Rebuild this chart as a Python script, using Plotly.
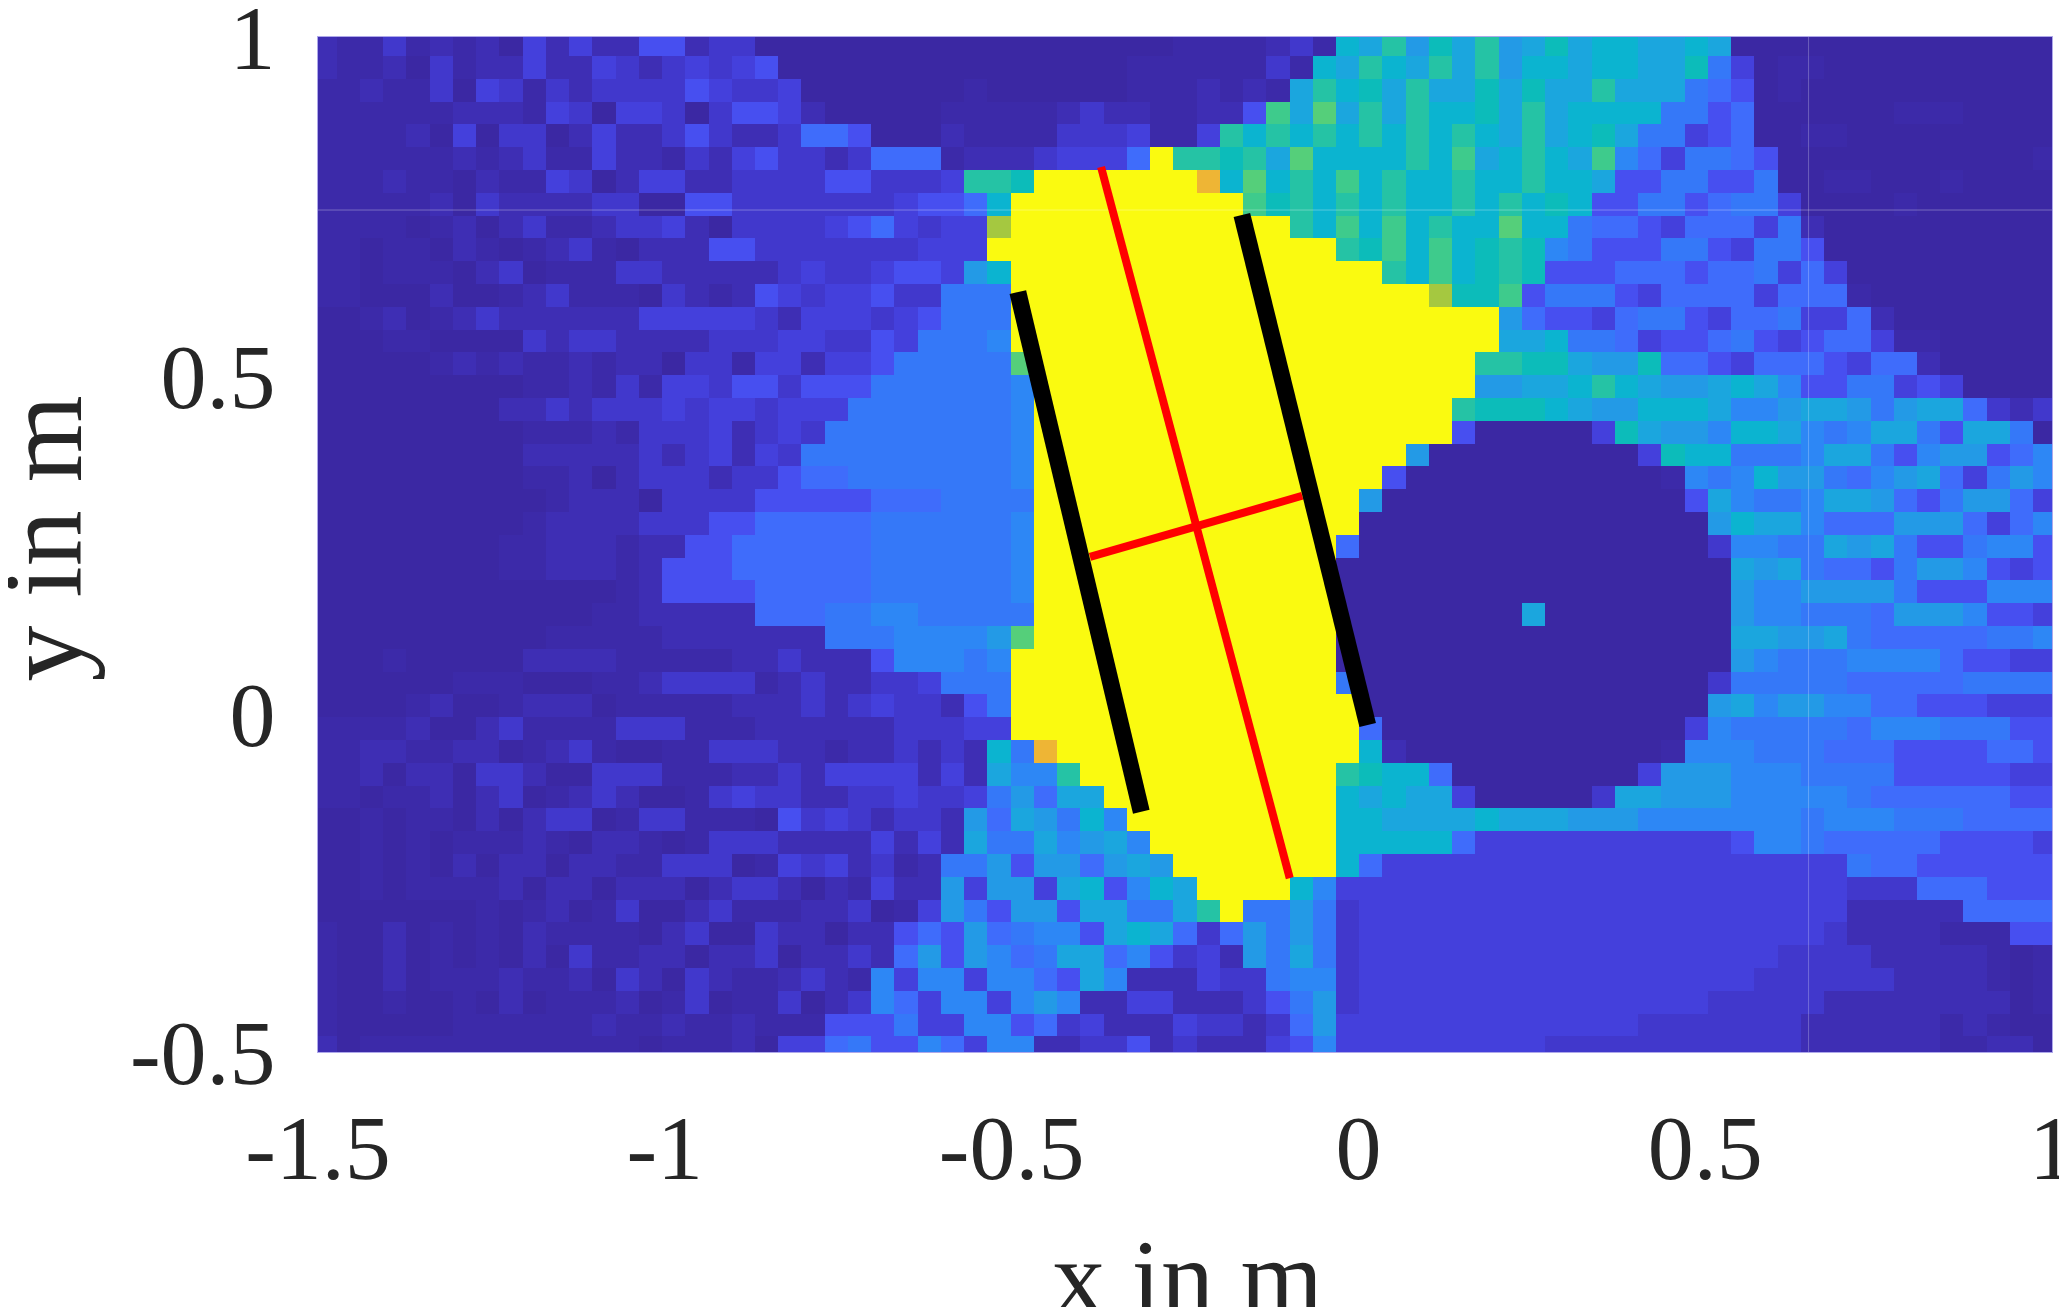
import plotly.graph_objects as go

# parula style colours
COLOURS = [
    [0.00, "#3b28a3"], [0.02, "#3c2aa9"], [0.04, "#3e2eb4"], [0.06, "#4138cc"],
    [0.09, "#4440dc"], [0.13, "#474ff0"], [0.18, "#3f6cfb"], [0.23, "#3578f8"],
    [0.29, "#2d87f5"], [0.34, "#239ae6"], [0.39, "#1ba6de"], [0.45, "#0bb4d0"],
    [0.50, "#0cbcba"], [0.56, "#25c3a5"], [0.62, "#3ecb8c"], [0.66, "#55cf7a"],
    [0.72, "#a5c840"], [0.86, "#eeb535"], [1.00, "#fafa10"],
]
LEVELS = dict(a=0.00, b=0.02, c=0.04, d=0.06, e=0.09, f=0.13, g=0.18, h=0.23, i=0.29, j=0.34,
              k=0.39, l=0.45, m=0.50, n=0.56, o=0.62, p=0.66, q=0.72, r=0.86, y=1.00)

# one string per row, top to bottom, one letter per cell
ROWS = [
    "cbbdbcbcae ceccffcdda aaaaaaaaaa aaaaaaabbb bcdblknjmk njkmkllkkl kaaaaaaaaa aaaaa",
    "cbbcadbcce ccedcdedef aaaaaaaaaa aaaaabbbbb bdblknlknk njllkllkkm heabbaaaaa aaaaa",
    "bbcbbdaedb dcddddfedd eaaaaaaaba aaaaabbbcb cbknlmknkk mkmkknkkkh gfabaaaaaa aaaaa",
    "bbbbbbcccb edaeedadff ecaaaaabbb bbcdccbbcc fokpknknll mknkllllhh fgaaaaaabb baaaa",
    "bbbbcaeadd aceccdfdcc dggfaaacbb bbdddebben lnlnlnlnln lknklmkhhe fgaabbaaaa aaaaa",
    "bbbbbbcbcd bbeccbdcef ddcdgggbcc cdeeegynnm nkpllllnlo klnlkoigeh hgfaaaaaaa aaaab",
    "bbbcbbacbb edaceeccdd ddffdddenn myyyyyyyrl plnlolnlln llnllkffhh ffhaabbaaa baaaa",
    "bbbbbcadcc ccddaaffdd dddddeffgl yyyyyyyyyy omnlnlnlln lnlmlffhhf ghheaaaaba aaaaa",
    "bbbbabcacd bbcddecadd ddefgedeeq yyyyyyyyyy yynlololnl lpllhggfeg ggehcaaaaa aaaaa",
    "bbabbacbab cdbacccffd ddddddeeey yyyyyyyyyy yyyynmolol mnmihfffhh fehhfaaaaa aaaaa",
    "bbabbbacda bbbddccccc deddeffejl yyyyyyyyyy yyyyyynlol mnmfffgggf gghegeaaaa aaaaa",
    "bbaaacaabc dbbbadcbcf edeefddhhh yyyyyyyyyy yyyyyyyyqm mofhhhfegg ggegggbaaa aaaaa",
    "aabcabcdcc cccceeeeed ceeedefhhh yyyyyyyyyy yyyyyyyyyy yjgffeghhf eggheegcaa aaaaa",
    "aaabbaaaad cddccccddd eeddfehhhi yyyyyyyyyy yyyyyyyyyy ykklhhgeff ghfefggebb aaaaa",
    "aaaaabcbcb bcbccaddbe eceefhhhhh pyyyyyyyyy yyyyyyyyyy nnmmkjjmgg fegggfeggc aaaaa",
    "aaaaaaaaab bcbdbeedff dfffhhhhhh iyyyyyyyyy yyyyyyyyyy jjkklnlkjj klkiffhhef eaaaa",
    "aaaaaaaacc dcdddedeed eeehhhhhhh iyyyyyyyyy yyyyyyyyyn mmmlkjjlll kiijkkjhjk kgdcd",
    "aaaaaaaaab bbcbdddecd edhhhhhhhh iyyyyyyyyy yyyyyyyyyf aaaaaemkjj illkihikkh fkkha",
    "aaaaaaaaac ccccdcdece dhhhhhhhhh iyyyyyyyyy yyyyyyyjaa aaaaaaaeml lhhhikkhfi jjfgi",
    "aaaaaaaaab bcacdddcdd fgghhhhhhh iyyyyyyyyy yyyyyyfaaa aaaaaaaabi hiljjhgijk gehji",
    "aaaaaaaaaa bcccaddddf ffffggghhh hyyyyyyyyy yyyyyjaaaa aaaaaaaaaf kihhikkjgf hjjge",
    "aaaaaaaaab ccccdddffg gggghhhhhh iyyyyyyyyy yyyyyaaaaa aaaaaaaaaa jlkkigggjj jgegi",
    "aaaaaaaabb cccbccffgg gggghhhhhh iyyyyyyyyy yyyygaaaaa aaaaaaaaaa diihhkjkhf fhiif",
    "aaaaaaaabb cccbcfffgg gggghhhhhh iyyyyyyyyy yyyyaaaaaa aaaaaaaaaa akjkhggfhj jifef",
    "aaaaaaaaaa aaabcffffg gggghhhhhh iyyyyyyyyy yyyyaaaaaa aaaaaaaaaa ajiijjjjhf ffiii",
    "aaaaaaaaaa aabbcccccg gghhiihhhh hyyyyyyyyy yyyyaaaaaa aakaaaaaaa ajiihhhgjj jiffe",
    "aaaaaaaaaa bbbbbccccc cchhhiiiij pyyyyyyyyy yyyyaaaaaa aaaaaaaaaa akkjjkhggg gghhi",
    "aaabaaaaac cccbbbbbcc dcccfiiihi yyyyyyyyyy yyyyaaaaaa aaaaaaaaaa ajihhhiiii gffee",
    "aaaaaabbba aabbcddddb cdccddehhh yyyyyyyyyy yyyyhaaaaa aaaaaaaaaa dhhhhhgggg ghhhh",
    "aaaabcaabc ccabbbbbcc cdcdeddcfh yyyyyyyyyy yyyyyaaaaa aaaaaaaaaa jkijjiiggf ffeee",
    "bbbbcaacdb bbbdddbbbc cccccdddee yyyyyyyyyy yyyyygaaaa aaaaaaaaae ihhhhhgiii hhhff",
    "bbccbbccab cdbaabbddd ccbccdcdcl hryyyyyyyy yyyyylcaaa aaaaaaaabi iihhhgggff ffggf",
    "bbcaccaddc aadddbbbcc dceeeececk iinyyyyyyy yyyynmllga aaaaaaaejj jiiihhhhff fffee",
    "bbabbcacda bcdcaabded dccddeddeh jgkkyyyyyy yyyylklkke aaaaadkkjj jiiiiihggg gggff",
    "aababbacac ddabddbbba fdedcddcjg kjhliyyyyy yyyyllkkkk lkkkjjjiii iiiihiiihh hgggg",
    "aabababbbc baccbabddd ccccececkh hkijkiyyyy yyyylllllg eeeeeeeeee efiihggggg ffffe",
    "aababacacc accbbdddab edecdbchhj fjjgjkjyyy yyyylgeeee eeeeeeeeee eeeeeehggf fffff",
    "aababbbbca ccacccacdd cacbeccjej jeklfilkyy yylieeeeee eeeeeeeeee eeeeeedddg ggfff",
    "aaaaaaabab cabdaacdbb bccdabejhf jjfkkhhkny hhjhdeeeee eeeeeeeeee eeeeeecccc cgggg",
    "baacababac bbbbacdaad ccaccfgfjg hiifklkgdg jhjhdeeeee eeeeeeeeee eeeeedcccc bbbff",
    "baacababac adbbccaccd accdcgjfji ghkkgifdec jhkhdeeeee eeeeeeeeee eeeddddccc ccbab",
    "baacabbbcb bcadcadcbb cdcbieiiei igfkiccced dhiideeeee eeeeeeeeee eeddddddcc ccbab",
    "baabaabaca bbbcabdabb dacdigeiie ijicceeccc dfhjdeeeee eeeeeeeeee dddddccccc cccab",
    "baaaaabbbb bbcbbcbbcb bbfffheeii fgdecccedd cdgjeeeeee eeeeeeeddd ddddcccccc bcbaa",
    "cabbbbbbbb bbbbabbbca eeghffigei iccddfcdcc cefieeeeee eeeddddddd ddddcccccc bbcca",
]

X_TICKS = [-1.5, -1, -0.5, 0, 0.5, 1]
X_LABELS = ["-1.5", "-1", "-0.5", "0", "0.5", "1"]
Y_TICKS = [-0.5, 0, 0.5, 1]
Y_LABELS = ["-0.5", "0", "0.5", "1"]

# plates (black) and their axes (red), in metres
LEFT_PLATE_X = [-0.491, -0.313]
LEFT_PLATE_Y = [0.623, -0.145]
RIGHT_PLATE_X = [-0.168, 0.0134]
RIGHT_PLATE_Y = [0.737, -0.0167]
LONG_AXIS_X = [-0.371, -0.099]
LONG_AXIS_Y = [0.808, -0.243]
CROSS_AXIS_X = [-0.387, -0.081]
CROSS_AXIS_Y = [0.2316, 0.322]

# faint white seams across the image
SEAM_H_X = [-1.5, 1]
SEAM_H_Y = [0.7443, 0.7443]
SEAM_V_X = [0.649, 0.649]
SEAM_V_Y = [-0.5, 1]

z = [[LEVELS[c] for c in row.replace(" ", "")] for row in ROWS]

fig = go.Figure()
fig.add_trace(go.Heatmap(z=z, x0=-1.4898, dx=0.03351, y0=0.9888, dy=-0.0337,
                         zmin=0, zmax=1, colorscale=COLOURS, showscale=False, hoverinfo="skip"))


def add_line(xs, ys, color, width):
    fig.add_trace(go.Scatter(x=xs, y=ys, mode="lines", line=dict(color=color, width=width),
                             showlegend=False, hoverinfo="skip"))


add_line(SEAM_H_X, SEAM_H_Y, "rgba(255,255,255,0.3)", 1)
add_line(SEAM_V_X, SEAM_V_Y, "rgba(255,255,255,0.25)", 1)
add_line(LONG_AXIS_X, LONG_AXIS_Y, "#ff0000", 8)
add_line(CROSS_AXIS_X, CROSS_AXIS_Y, "#ff0000", 8)
add_line(LEFT_PLATE_X, LEFT_PLATE_Y, "#000000", 17)
add_line(RIGHT_PLATE_X, RIGHT_PLATE_Y, "#000000", 17)

tick_font = dict(family="Liberation Serif", size=92, color="#262626")

fig.update_layout(
    width=2051, height=1299, autosize=False,
    margin=dict(l=310, r=7, t=29, b=255),
    plot_bgcolor="white", paper_bgcolor="white", showlegend=False,
)
fig.update_xaxes(range=[-1.5, 1], tickvals=X_TICKS, ticktext=X_LABELS, tickangle=0, tickfont=tick_font,
                 ticklabeloverflow="allow", automargin=False,
                 ticks="outside", ticklen=16, tickcolor="rgba(0,0,0,0)", showgrid=False, zeroline=False,
                 showline=True, mirror=True, linecolor="rgba(120,110,220,0.6)", linewidth=1)
fig.update_yaxes(range=[-0.5, 1], tickvals=Y_TICKS, ticktext=Y_LABELS, tickfont=tick_font,
                 ticklabeloverflow="allow", automargin=False,
                 ticks="outside", ticklen=23, tickcolor="rgba(0,0,0,0)", showgrid=False, zeroline=False,
                 showline=True, mirror=True, linecolor="rgba(120,110,220,0.6)", linewidth=1)

# axis standoff does nothing without automargin, so the titles go in as annotations
fig.add_annotation(text="x in m", xref="paper", yref="paper", x=0.5017, y=0, xanchor="center", yanchor="top",
                   yshift=-165, showarrow=False,
                   font=dict(family="Liberation Serif", size=106, color="#262626"))
fig.add_annotation(text="y in m", xref="paper", yref="paper", x=0, y=0.506, xanchor="center", yanchor="middle",
                   xshift=-275, textangle=-90, showarrow=False,
                   font=dict(family="Liberation Serif", size=112, color="#262626"))

fig.write_html("out.html")
